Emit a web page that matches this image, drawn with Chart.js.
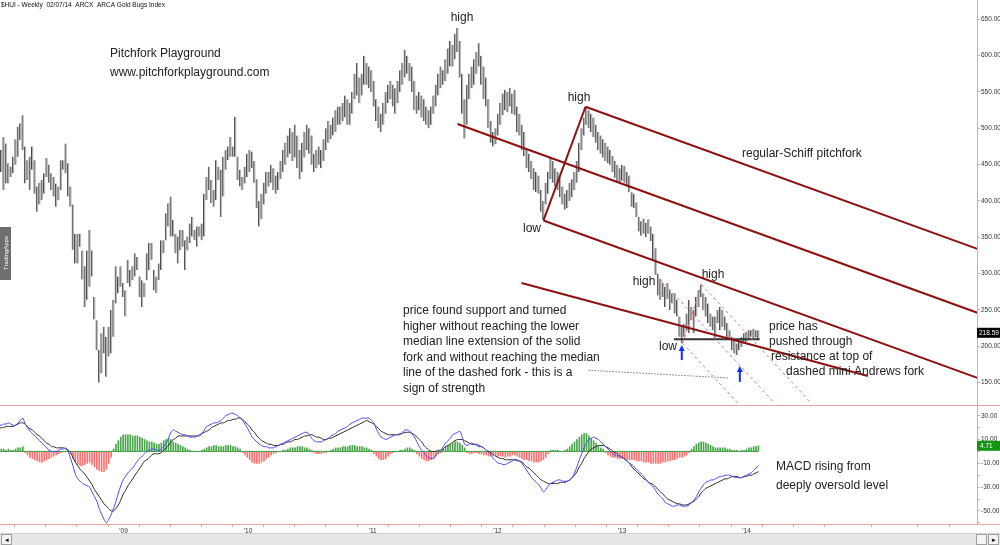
<!DOCTYPE html>
<html>
<head>
<meta charset="utf-8">
<title>$HUI weekly - pitchfork playground</title>
<script src="https://cdn.jsdelivr.net/npm/chart.js@4.4.1/dist/chart.umd.min.js"></script>
<style>
  body { margin: 0; background: #fff; overflow: hidden; }
  #wrap { position: relative; width: 1000px; height: 545px; }
  canvas { position: absolute; left: 0; }
  #priceChart { top: 0; }
  #macdChart { top: 405px; }
  #scroll { position: absolute; left: 0; top: 533px; width: 1000px; height: 12px; background: #e6e6e6; border-top: 1px solid #d2d2d2; box-sizing: border-box; }
  .btn { position: absolute; top: 0; width: 9px; height: 9px; background: #f4f4f4; border: 1px solid #a0a0a0; font: 7px sans-serif; line-height: 9px; text-align: center; color: #000; }
</style>
</head>
<body>
<div id="wrap">
  <canvas id="priceChart" width="1000" height="405"></canvas>
  <canvas id="macdChart" width="1000" height="140"></canvas>
  <div id="scroll"><div class="btn" style="left:1px">&#9666;</div><div class="btn" style="left:976px"></div><div class="btn" style="left:988px">&#9656;</div></div>
</div>
<script>
// weekly bars, index 0 = first week of Jan 2008, last = 02/07/14
var highs = [
  480,470,488,479,452,447,461,485,502,507,518,475,456,461,475,456,420,425,429,438,
  459,450,438,433,424,420,456,456,479,452,420,395,355,355,355,332,310,332,360,332,
  268,236,195,218,227,213,227,250,264,310,296,310,287,
  277,319,305,310,328,323,296,291,287,328,342,342,305,296,314,346,346,383,397,406,
  374,355,351,360,360,346,351,369,378,360,365,365,369,410,433,447,429,415,456,447,
  443,461,470,475,488,475,516,461,443,433,447,465,
  470,468,455,430,400,410,425,440,440,450,445,435,440,455,470,480,490,500,495,505,
  490,470,480,495,505,500,490,465,470,475,470,485,500,510,505,515,525,530,530,535,
  545,540,535,550,575,590,570,575,600,590,585,580,
  565,540,530,520,535,550,560,565,560,555,565,580,590,608,600,590,585,565,545,550,
  545,540,530,525,530,545,560,575,585,580,595,610,620,615,630,638,620,575,540,560,
  575,585,595,605,617,600,585,570,540,510,495,500,
  520,535,548,553,550,556,548,553,530,520,505,495,470,465,455,445,440,435,415,400,
  425,440,461,455,445,440,435,420,410,415,425,430,440,455,480,500,515,530,525,520,
  515,505,495,490,485,480,475,470,462,455,450,445,
  450,448,440,435,412,410,398,378,372,376,370,375,365,355,335,300,293,287,282,287,
  277,273,273,264,241,228,231,245,264,254,250,268,277,285,273,268,259,245,241,241,
  250,254,250,241,232,222,213,209,204,209,213,218,220,222,222,224,222,222
];
var lows = [
  433,440,415,424,424,433,438,450,461,484,470,424,429,415,443,410,385,395,401,410,
  433,425,415,406,392,401,415,443,438,406,392,333,314,314,337,292,254,264,282,296,
  237,195,150,163,190,158,186,190,213,259,273,282,268,
  241,287,282,291,296,305,268,254,268,291,305,319,277,273,291,305,328,346,365,351,
  351,328,314,332,337,305,332,342,351,346,337,351,346,351,401,415,397,392,401,429,
  378,406,443,456,461,461,461,429,420,415,424,433,
  440,445,425,390,365,375,395,410,420,425,415,410,415,430,440,450,460,465,455,460,
  445,430,440,460,470,465,450,440,445,450,445,455,470,480,485,490,495,505,505,510,
  515,505,505,520,540,545,535,545,560,560,555,550,
  530,510,500,495,505,520,535,540,530,520,535,550,560,570,575,565,550,525,520,525,
  515,510,505,500,505,520,530,545,555,560,565,575,585,585,595,605,570,520,486,505,
  540,555,560,575,585,560,540,530,500,480,475,478,
  490,505,518,525,522,530,520,518,495,490,470,462,445,440,430,415,412,410,385,374,
  395,410,430,425,420,415,405,395,388,390,400,405,415,425,440,470,490,505,500,495,
  488,480,470,465,460,455,452,450,440,432,425,425,
  428,425,420,412,392,390,378,358,352,355,350,355,345,318,298,270,264,268,254,265,
  250,259,245,241,213,204,213,222,218,236,218,241,254,268,250,241,232,227,222,209,
  232,222,227,222,209,209,195,190,188,195,199,204,206,209,213,211,212,210
];
var lastClose = 218.59;

// MACD panel
var macdLine = [
  22,22,23,23,24,23,22,22,24,26,28,23,20,17,15,13,11,9,7,5,
  3,1,0,0,0,1,2,2,3,0,-6,-12,-19,-23,-25,-27,-28,-29,-30,-34,
  -38,-42,-48,-53,-57,-60,-57,-53,-48,-42,-35,-29,-24,-21,-18,-16,-14,-11,-8,-6,
  -4,-2,0,1,2,2,1,1,2,4,7,11,16,18,17,16,15,14,14,13,
  12,12,12,13,13,15,18,21,22,23,24,24,25,26,28,30,31,32,32,31,
  30,28,26,23,20,16,12,10,8,6,5,4,4,3,3,3,4,5,6,7,
  8,9,10,11,12,13,14,15,16,16,14,11,9,8,8,8,9,10,11,13,
  14,15,17,18,19,20,21,23,24,25,26,27,28,28,28,28,26,24,19,15,
  12,11,10,11,12,13,14,14,14,16,18,18,17,15,12,8,4,1,-1,-4,
  -5,-6,-6,-3,-1,1,4,7,9,11,14,15,16,17,12,6,5,6,7,6,
  5,4,4,3,1,-1,-3,-6,-8,-10,-10,-11,-11,-10,-9,-8,-7,-7,-8,-10,
  -13,-16,-19,-22,-24,-26,-28,-31,-34,-32,-29,-27,-26,-25,-24,-24,-25,-25,-25,-24,
  -22,-18,-13,-7,-2,3,7,10,11,12,11,10,8,6,4,2,0,-2,-3,-4,
  -4,-5,-7,-8,-10,-11,-13,-15,-17,-19,-21,-24,-26,-28,-30,-33,-36,-38,-40,-43,
  -44,-45,-46,-46,-45,-45,-46,-46,-46,-45,-43,-41,-38,-34,-31,-28,-26,-25,-24,-24,
  -23,-22,-21,-21,-20,-20,-20,-21,-22,-22,-22,-22,-21,-20,-19,-18,-16,-14,-12
];
var signalLine = [
  19,20,20,21,21,21,21,22,23,24,24,23,21,19,18,16,14,13,11,9,
  7,6,4,4,3,3,3,3,2,1,-1,-5,-9,-12,-15,-17,-19,-22,-25,-28,
  -32,-35,-38,-41,-44,-46,-48,-50,-50,-48,-45,-41,-36,-33,-29,-26,-23,-20,-17,-14,
  -11,-8,-7,-5,-3,-2,-2,-2,-1,1,3,5,8,10,11,13,13,13,13,13,
  13,13,13,13,14,15,16,17,18,20,21,22,23,24,24,25,26,26,27,27,
  28,28,27,25,23,21,18,16,13,11,9,8,7,6,6,5,5,5,6,6,
  7,8,8,9,10,10,11,12,13,13,14,14,13,12,12,11,10,10,11,11,
  12,13,14,15,16,17,18,19,20,21,22,23,24,25,26,25,24,23,21,19,
  17,16,15,14,14,14,14,14,15,15,16,16,16,15,14,12,10,8,5,3,
  1,0,0,0,1,1,2,4,5,6,8,9,10,10,10,9,8,7,6,6,
  6,5,4,3,1,0,-1,-3,-4,-5,-6,-6,-7,-7,-7,-7,-7,-8,-8,-9,
  -11,-13,-14,-16,-18,-20,-22,-24,-25,-26,-27,-27,-27,-27,-27,-26,-26,-26,-25,-24,
  -22,-20,-17,-13,-10,-6,-3,0,2,3,4,5,5,5,4,3,2,0,-1,-2,
  -4,-5,-6,-8,-10,-13,-15,-17,-19,-21,-23,-24,-26,-27,-28,-30,-32,-34,-36,-38,
  -40,-41,-42,-43,-44,-44,-45,-45,-45,-44,-43,-42,-40,-38,-35,-33,-31,-30,-29,-28,
  -27,-26,-25,-24,-23,-23,-22,-21,-21,-21,-22,-22,-21,-21,-20,-20,-19,-18,-17
];
var histogram = [
  1,2,2,1,2,1,1,2,3,3,4,
  -1,-3,-5,-6,-7,-8,-9,-9,-8,-7,-6,-5,-4,-3,-2,
  -1,0,0,0,-2,
  -6,-9,-11,-12,-12,-11,-10,-9,-11,-13,-15,-16,-17,-17,-15,-10,-5,
  2,6,9,12,14,14,14,14,13,13,13,12,11,10,9,8,8,7,6,
  6,7,9,10,11,10,8,7,6,5,4,3,2,
  1,0,0,0,0,1,2,
  3,4,4,5,5,4,4,4,5,5,5,4,4,3,2,
  -1,-3,-5,-7,-9,-10,-10,-10,-9,-8,-6,-5,-3,-2,-1,
  0,0,1,1,
  2,3,3,3,4,4,4,3,3,2,1,
  -1,-2,-2,-2,-1,-1,0,
  1,2,3,3,3,4,4,4,5,5,5,4,4,4,3,3,2,1,
  -2,-4,-6,-7,-7,-6,-4,-2,-1,
  0,0,1,1,
  2,3,3,2,1,
  -2,-4,-6,-7,-8,-8,-7,-6,-4,-2,-1,
  2,4,5,6,7,8,8,7,5,3,
  -1,-2,-2,-1,-1,-2,-2,-3,-3,-4,-4,-3,-3,-4,-4,
  -4,-5,-4,-4,-3,-3,-4,-5,-6,-7,-7,-8,-8,-9,-9,-9,-8,-7,-5,-2,
  1,1,1,1,0,0,1,
  2,4,6,8,10,12,14,15,15,13,11,9,7,5,3,2,
  -1,-3,-4,-5,-5,-6,-6,-6,-6,-7,-7,-7,-7,-8,-8,-8,-9,-9,-9,-10,
  -10,-10,-10,-10,-9,-9,-8,-8,-7,-7,-6,-5,-5,-4,-3,-1,
  2,4,6,7,8,8,7,6,5,4,
  3,3,3,3,3,2,2,1,1,
  1,0,1,1,2,
  3,3,4,4,4.71
];
var lastHist = 4.71;

// axis ticks
var priceTicks = [150, 200, 250, 300, 350, 400, 450, 500, 550, 600, 650];
var macdTicks = [30, 20, 10, 0, -10, -20, -30, -40, -50, -60];
var yearTicks = [52.2, 104.3, 156.5, 208.7, 260.9, 313.0];
var yearLabels = ["'09", "'10", "'11", "'12", "'13", "'14"];

// drawn lines: [week1, price1, week2, price2]
var schiffFork = [
  [228.0, 373.2, 245.6, 529.7],
  [245.6, 529.7, 409.9, 333.7],
  [192.0, 505.9, 409.9, 245.9],
  [228.0, 373.2, 409.9, 156.2]
];
var lowerExtension = [218.8, 287, 363.8, 159];
// mini Andrews fork: pivots A (high), B (low), C (high)
var miniFork = [
  [277.1, 291.3, 324.7, 122],   // median from A
  [286.3, 204.0, 309.3, 122],   // lower tine from B
  [294.2, 285.0, 340.0, 122],   // upper tine from C
  [286.3, 204.0, 294.2, 285.0]  // B-C handle
];
var supportLine = [282.6, 209.6, 318.5, 209.6];
var pointerLine = [246.9, 167, 305.2, 156.4];
// blue arrows: [week, tail price, head price]
var arrows = [[285.9, 181, 201.7], [310.2, 151, 173]];

var FONT = '"Liberation Sans", Arial, sans-serif';
var PINK = '#f3a2a2';
var DARKRED = '#8e1010';

var notes = [
  ['Pitchfork Playground', 110, 54, 'left'],
  ['www.pitchforkplayground.com', 110, 73, 'left'],
  ['high', 462, 18, 'center'],
  ['high', 579, 98, 'center'],
  ['low', 532, 229, 'center'],
  ['regular-Schiff pitchfork', 742, 154, 'left'],
  ['high', 644, 282, 'center'],
  ['high', 713, 275, 'center'],
  ['low', 668, 347, 'center'],
  ['price found support and turned', 403, 311, 'left'],
  ['higher without reaching the lower', 403, 326.5, 'left'],
  ['median line extension of the solid', 403, 342, 'left'],
  ['fork and without reaching the median', 403, 357.5, 'left'],
  ['line of the dashed fork - this is a', 403, 373, 'left'],
  ['sign of strength', 403, 388.5, 'left'],
  ['price has', 769, 327, 'left'],
  ['pushed through', 769, 342, 'left'],
  ['resistance at top of', 771, 357, 'left'],
  ['dashed mini Andrews fork', 786, 372, 'left']
];
var macdNotes = [
  ['MACD rising from', 776, 467, 'left'],
  ['deeply oversold level', 776, 486, 'left']
];

function seg(l) { return [{x: l[0], y: l[1]}, {x: l[2], y: l[3]}]; }
function lineSet(l, color, width, dash) {
  return { type: 'line', data: seg(l), borderColor: color, borderWidth: width, borderDash: dash || [],
           pointRadius: 0, fill: false, tension: 0, order: 0 };
}

var bars = highs.map(function (h, i) { return {x: i, y: [lows[i], h]}; });

var priceSets = [{
  type: 'bar', data: bars, backgroundColor: '#b4b4b4', borderColor: '#4a4a4a',
  borderWidth: {left: 1, right: 0, top: 0, bottom: 0}, borderSkipped: false, barThickness: 2, order: 5
}];
schiffFork.forEach(function (l) { priceSets.push(lineSet(l, DARKRED, 2)); });
priceSets.push(lineSet(lowerExtension, DARKRED, 2));
miniFork.forEach(function (l) { priceSets.push(lineSet(l, '#e07a7a', 1, [3, 3])); });
priceSets.push(lineSet(supportLine, '#333', 2));
priceSets.push(lineSet(pointerLine, '#333', 1, [1, 2]));

function rightAxisFit(s) { s.width = 23; s.paddingTop = 0; s.paddingBottom = 0; }

var priceDecor = {
  id: 'priceDecor',
  afterDraw: function (chart) {
    var ctx = chart.ctx, xs = chart.scales.x, ys = chart.scales.y;
    ctx.save();
    // arrows
    ctx.strokeStyle = '#1030ff'; ctx.fillStyle = '#1030ff'; ctx.lineWidth = 2;
    arrows.forEach(function (a) {
      var x = xs.getPixelForValue(a[0]), y1 = ys.getPixelForValue(a[1]), y2 = ys.getPixelForValue(a[2]);
      ctx.beginPath(); ctx.moveTo(x, y1); ctx.lineTo(x, y2 + 4); ctx.stroke();
      ctx.beginPath(); ctx.moveTo(x, y2); ctx.lineTo(x - 3, y2 + 6); ctx.lineTo(x + 3, y2 + 6); ctx.closePath(); ctx.fill();
    });
    // annotations
    ctx.fillStyle = '#222'; ctx.textBaseline = 'middle'; ctx.font = '12px ' + FONT;
    notes.forEach(function (n) { ctx.textAlign = n[3]; ctx.fillText(n[0], n[1], n[2]); });
    // title
    ctx.font = '6.5px ' + FONT; ctx.textAlign = 'left'; ctx.fillStyle = '#111';
    ctx.fillText('$HUI - Weekly  02/07/14  ARCX  ARCA Gold Bugs Index', 1, 5);
    // side badge
    ctx.fillStyle = '#6e6e6e'; ctx.fillRect(0, 227, 11, 53);
    ctx.save(); ctx.translate(6, 253); ctx.rotate(-Math.PI / 2);
    ctx.fillStyle = '#fff'; ctx.font = '6px ' + FONT; ctx.textAlign = 'center';
    ctx.fillText('TradingApps', 0, 0); ctx.restore();
    // last price box
    var yp = ys.getPixelForValue(lastClose);
    ctx.fillStyle = '#000'; ctx.fillRect(977, yp - 5, 23, 10);
    ctx.fillStyle = '#fff'; ctx.font = '6.5px ' + FONT; ctx.textAlign = 'left';
    ctx.fillText(lastClose.toFixed(2), 979, yp);
    ctx.restore();
  }
};

new Chart(document.getElementById('priceChart'), {
  type: 'bar',
  data: { datasets: priceSets },
  options: {
    responsive: false, animation: false, events: [],
    layout: { padding: 0 },
    plugins: { legend: { display: false }, tooltip: { enabled: false } },
    scales: {
      x: { type: 'linear', min: 0.46, max: 409.5, offset: false, display: false },
      y: {
        position: 'right', min: 119.2, max: 676.6,
        afterFit: rightAxisFit,
        afterBuildTicks: function (s) { s.ticks = priceTicks.map(function (v) { return {value: v}; }); },
        grid: { drawOnChartArea: false, color: PINK, tickLength: 3 },
        border: { color: PINK, width: 1 },
        ticks: { font: { size: 6.5, family: FONT }, color: '#333', padding: 1,
                 callback: function (v) { return v.toFixed(2); } }
      }
    }
  },
  plugins: [priceDecor]
});

// MACD pane
var xTicks = [];
yearTicks.forEach(function (t, k) {
  for (var q = (k === 0 ? -3 : 0); q < 4; q++) {
    var v = t + q * (52.18 / 4);
    if (v > 0.5 && v < 409.5) xTicks.push(v);
  }
});
for (var extra = 1; extra < 4; extra++) {
  var v2 = yearTicks[yearTicks.length - 1] + (4 + extra) * (52.18 / 4);
  if (v2 < 409.5) xTicks.push(v2);
}

var macdDecor = {
  id: 'macdDecor',
  afterDraw: function (chart) {
    var ctx = chart.ctx, ys = chart.scales.y, area = chart.chartArea;
    ctx.save();
    ctx.strokeStyle = PINK; ctx.lineWidth = 1;
    ctx.beginPath(); ctx.moveTo(0, 0.5); ctx.lineTo(1000, 0.5); ctx.stroke();
    ctx.beginPath(); ctx.moveTo(977, area.bottom + 0.5); ctx.lineTo(1000, area.bottom + 0.5); ctx.stroke();
    var yh = ys.getPixelForValue(lastHist);
    ctx.fillStyle = '#139413'; ctx.fillRect(977, yh - 5, 23, 10);
    ctx.fillStyle = '#fff'; ctx.font = '6.5px ' + FONT; ctx.textBaseline = 'middle'; ctx.textAlign = 'left';
    ctx.fillText(lastHist.toFixed(2), 980, yh);
    ctx.fillStyle = '#222'; ctx.font = '12px ' + FONT;
    macdNotes.forEach(function (n) { ctx.textAlign = n[3]; ctx.fillText(n[0], n[1], n[2] - 405); });
    ctx.restore();
  }
};

var weeks = highs.map(function (_, i) { return i; });
new Chart(document.getElementById('macdChart'), {
  type: 'bar',
  data: {
    datasets: [
      { type: 'bar', data: histogram.map(function (v, i) { return {x: i, y: v}; }),
        backgroundColor: histogram.map(function (v) { return v >= 0 ? '#4aa64a' : '#ff7070'; }),
        barThickness: 1, order: 5 },
      { type: 'line', data: [{x: 0, y: 0}, {x: weeks.length - 1, y: 0}], borderColor: '#3f9a3f',
        borderWidth: 1, pointRadius: 0, order: 4 },
      { type: 'line', data: signalLine.map(function (v, i) { return {x: i, y: v}; }), borderColor: '#2a2a2a',
        borderWidth: 1, pointRadius: 0, tension: 0.3, order: 2 },
      { type: 'line', data: macdLine.map(function (v, i) { return {x: i, y: v}; }), borderColor: '#4a4aff',
        borderWidth: 1, pointRadius: 0, tension: 0.3, order: 1 }
    ]
  },
  options: {
    responsive: false, animation: false, events: [],
    layout: { padding: 0 },
    plugins: { legend: { display: false }, tooltip: { enabled: false } },
    scales: {
      x: {
        type: 'linear', min: 0.46, max: 409.5, offset: false,
        afterFit: function (s) { s.height = 21; s.paddingLeft = 0; s.paddingRight = 0; },
        afterBuildTicks: function (s) { s.ticks = xTicks.map(function (v) { return {value: v}; }); },
        grid: { drawOnChartArea: false, color: PINK, tickLength: 3 },
        border: { color: PINK, width: 1 },
        ticks: { autoSkip: false, maxRotation: 0, padding: 0, font: { size: 6.5, family: FONT }, color: '#333',
                 callback: function (v) { var k = yearTicks.indexOf(v); return k >= 0 ? yearLabels[k] : ''; } }
      },
      y: {
        position: 'right', min: -61, max: 39,
        afterFit: rightAxisFit,
        afterBuildTicks: function (s) { s.ticks = macdTicks.map(function (v) { return {value: v}; }); },
        grid: { drawOnChartArea: false, color: PINK, tickLength: 3 },
        border: { color: PINK, width: 1 },
        ticks: { font: { size: 6.5, family: FONT }, color: '#333', padding: 1,
                 callback: function (v) { return v % 20 !== 0 ? v.toFixed(2) : ''; } }
      }
    }
  },
  plugins: [macdDecor]
});
</script>
</body>
</html>
